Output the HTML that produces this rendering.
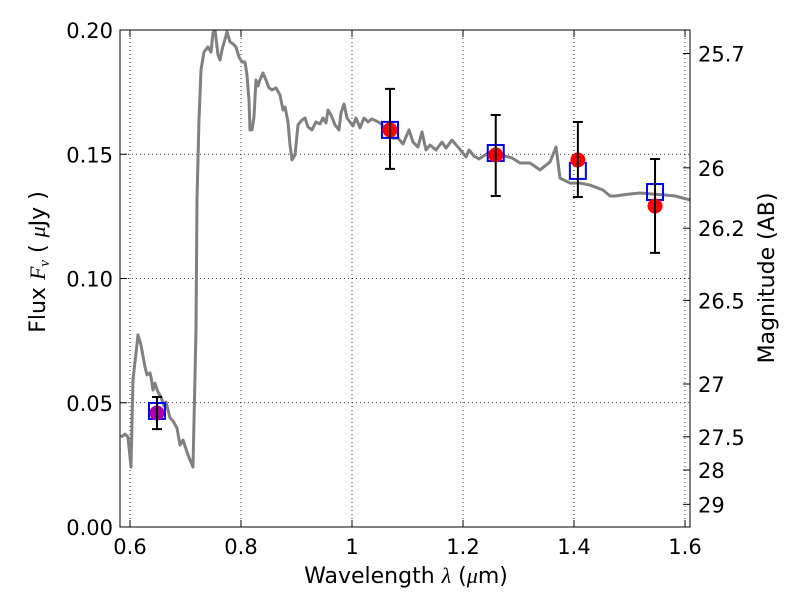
<!DOCTYPE html>
<html><head><meta charset="utf-8"><style>body{margin:0;background:#fff}svg{display:block}text{font-family:"DejaVu Sans","Liberation Sans",sans-serif;fill:#000}</style></head>
<body>
<svg id="chart" width="800" height="600"></svg>
<script>
const curvePx=[[121,437],[125,434],[128,437],[131,467],[133,380],[138,335],[141,345],[145,367],[147,375],[150,373],[151,377],[153,390],[155,383],[158,392],[161,397],[164,406],[166,402],[170,418],[173,421],[177,428],[180,445],[183,440],[188,455],[193,467],[196,330],[197,200],[199,120],[201,70],[204,52],[208,47],[211,52],[213,33],[215,30],[218,55],[220,60],[222,50],[227,32],[230,42],[233,44],[236,47],[239,57],[242,62],[245,62],[247,75],[249,100],[250,130],[252,130],[254,117],[256,80],[258,86],[260,80],[263,73],[266,80],[269,88],[272,90],[276,88],[280,95],[283,110],[285,107],[288,122],[290,145],[292,160],[295,155],[298,125],[302,120],[305,118],[308,127],[312,130],[316,122],[320,124],[323,118],[326,123],[328,110],[331,115],[335,125],[339,130],[341,113],[344,104],[347,118],[353,126],[356,118],[360,128],[364,118],[368,122],[372,119],[380,123],[385,128],[393,138],[398,138],[403,144],[409,130],[413,142],[418,147],[422,132],[426,150],[430,145],[436,150],[442,142],[446,148],[452,140],[458,147],[466,157],[469,150],[474,156],[479,159],[485,155],[490,152],[498,155],[505,156],[512,158],[520,163],[530,163],[540,170],[550,162],[556,147],[560,178],[570,183],[580,183],[590,185],[603,190],[610,196],[615,196],[630,194],[640,193],[652,194],[665,195],[675,196],[690,200]];
// model spectrum as (wavelength um, flux uJy)
const sedWave=curvePx.map(p=>+(0.6+(p[0]-130)/555).toFixed(4));
const sedFlux=curvePx.map(p=>+((527-p[1])/2485).toFixed(4));
const obsWave=[0.6486,1.0685,1.259,1.407,1.546];
const obsFlux=[0.0459,0.1598,0.1497,0.1477,0.1292];
const errLow=[0.0394,0.1441,0.1332,0.1328,0.1103];
const errHigh=[0.0523,0.1763,0.1658,0.1630,0.1481];
const modelFlux=[0.0467,0.1598,0.1505,0.1433,0.1348];
const xTicks=[0.6,0.8,1.0,1.2,1.4,1.6];
const xTickLabels=["0.6","0.8","1","1.2","1.4","1.6"];
const yTicks=[0,0.05,0.10,0.15,0.20];
const yTickLabels=["0.00","0.05","0.10","0.15","0.20"];
const magTicks=[25.7,26,26.2,26.5,27,27.5,28,29];
const magLabels=["25.7","26","26.2","26.5","27","27.5","28","29"];

const L=120,R=690,T=30,B=527;
const X=v=>130+(v-0.6)*555;
const Y=v=>527-v*2485;
const svg=document.getElementById('chart');
const NS='http://www.w3.org/2000/svg';
function el(t,a,p){const e=document.createElementNS(NS,t);for(const k in a)e.setAttribute(k,a[k]);(p||svg).appendChild(e);return e;}
const clip=el('clipPath',{id:'c'});el('rect',{x:L,y:T,width:R-L,height:B-T},clip);
xTicks.forEach((v,i)=>{const g=el('line',{x1:X(v),x2:X(v),y1:T,y2:B,stroke:'#000','stroke-dasharray':'1,3','stroke-width':0.8});

const t=el('text',{x:X(v),y:554,'text-anchor':'middle','font-size':21});t.textContent=xTickLabels[i];

el('line',{x1:X(v),x2:X(v),y1:B,y2:B-7,stroke:'#000'});el('line',{x1:X(v),x2:X(v),y1:T,y2:T+7,stroke:'#000'});});
yTicks.forEach((v,i)=>{const g=el('line',{x1:L,x2:R,y1:Y(v),y2:Y(v),stroke:'#000','stroke-dasharray':'1,3','stroke-width':0.8});

const t=el('text',{x:113,y:Y(v)+8,'text-anchor':'end','font-size':21});t.textContent=yTickLabels[i];

el('line',{x1:L,x2:L+7,y1:Y(v),y2:Y(v),stroke:'#000'});});
magTicks.forEach((m,i)=>{const y=Y(Math.pow(10,(23.9-m)/2.5));
el('line',{x1:R,x2:R-7,y1:y,y2:y,stroke:'#000'});
const t=el('text',{x:698,y:y+8,'font-size':21});t.textContent=magLabels[i];
});
const pl=el('polyline',{points:sedWave.map((w,i)=>X(w)+','+Y(sedFlux[i])).join(' '),fill:'none',stroke:'#808080','stroke-width':3,'stroke-linejoin':'round','clip-path':'url(#c)'});

obsWave.forEach((w,i)=>{const x=X(w);
const s=el('rect',{x:x-8,y:Y(modelFlux[i])-8,width:16,height:16,fill:'none',stroke:'#0000ff','stroke-width':2});

const c=el('circle',{cx:x,cy:Y(obsFlux[i]),r:7.5,fill:i==0?'#aa00aa':'#ff0000'});

const e=el('path',{d:`M${x},${Y(errLow[i])}V${Y(errHigh[i])}M${x-5},${Y(errLow[i])}h10M${x-5},${Y(errHigh[i])}h10`,stroke:'#000','stroke-width':2,fill:'none'});
});
const fr=el('rect',{x:L,y:T,width:R-L,height:B-T,fill:'none',stroke:'#000','stroke-width':1});

const xl=el('text',{x:406,y:583,'text-anchor':'middle','font-size':22});
xl.innerHTML='Wavelength  <tspan font-style="italic" font-family="Liberation Serif,serif">λ</tspan> (<tspan font-style="italic" font-family="Liberation Serif,serif">μ</tspan>m)';

const yl=el('text',{transform:'translate(45,262) rotate(-90)','text-anchor':'middle','font-size':22});
yl.innerHTML='Flux  <tspan font-style="italic" font-family="Liberation Serif,serif">F</tspan><tspan font-style="italic" font-family="Liberation Serif,serif" font-size="15" dy="4">ν</tspan><tspan dy="-4">  (  </tspan><tspan font-style="italic" font-family="Liberation Serif,serif">μ</tspan>Jy )';

const rl=el('text',{transform:'translate(774,278) rotate(-90)','text-anchor':'middle','font-size':22});
rl.textContent='Magnitude (AB)';

</script>
</body></html>
